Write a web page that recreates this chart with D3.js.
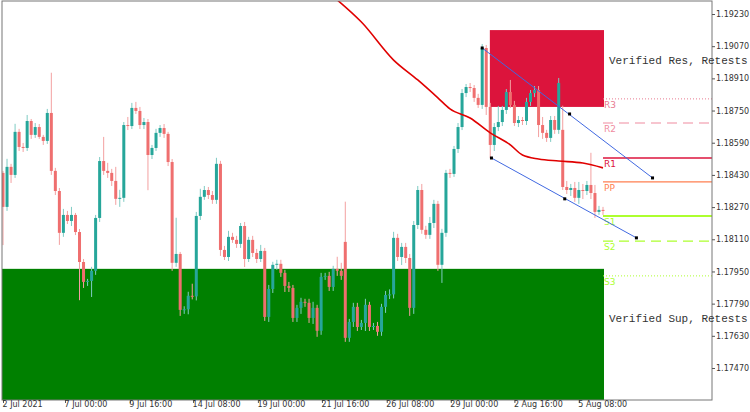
<!DOCTYPE html>
<html><head><meta charset="utf-8">
<script src="https://cdn.jsdelivr.net/npm/d3@7"></script>
<style>body{margin:0;background:#fff}svg{display:block}</style>
</head><body><svg id="c" width="750" height="412"></svg>
<script>
const firstOpen = 1.18440;
const closes = [1.18271,1.18470,1.18430,1.18644,1.18569,1.18564,1.18698,1.18629,1.18668,1.18619,
1.18599,1.18738,1.18450,1.18350,1.18142,1.18231,1.18201,1.18231,1.18146,1.17997,
1.17898,1.17903,1.17953,1.18216,1.18499,1.18450,1.18440,1.18400,1.18311,1.18316,
1.18678,1.18673,1.18763,1.18748,1.18678,1.18693,1.18529,1.18564,1.18639,1.18663,
1.18634,1.18494,1.17993,1.18037,1.17759,1.17762,1.17829,1.17826,1.18226,1.18321,
1.18355,1.18330,1.18306,1.18485,1.18057,1.18022,1.18122,1.18107,1.18087,1.18176,
1.18012,1.18107,1.18042,1.18012,1.18052,1.17724,1.17863,1.17983,1.17988,1.17943,
1.17878,1.17868,1.17719,1.17769,1.17799,1.17794,1.17719,1.17769,1.17655,1.17923,
1.17928,1.17873,1.17963,1.17953,1.17928,1.17620,1.17699,1.17774,1.17674,1.17694,
1.17784,1.17674,1.17679,1.17650,1.17774,1.17833,1.17836,1.18117,1.18022,1.18072,
1.18017,1.17769,1.18181,1.18355,1.18157,1.18132,1.18191,1.18286,1.17983,1.18142,
1.18440,1.18435,1.18559,1.18668,1.18837,1.18867,1.18862,1.18813,1.18778,1.19061,
1.18768,1.18579,1.18668,1.18693,1.18753,1.18842,1.18778,1.18688,1.18703,1.18698,
1.18793,1.18837,1.18852,1.18678,1.18639,1.18614,1.18703,1.18654,1.18887,1.18370,
1.18355,1.18365,1.18316,1.18355,1.18350,1.18380,1.18340,1.18246,1.18256,1.18251];
const gapOpens = {85:1.18097, 139:1.18654};
const upWick = [10,40,15,40,15,20,30,10,20,15, 10,20,200,15,15,30,20,40,10,15, 15,10,20,15,20,120,40,20,70,40, 15,40,25,30,20,20,15,15,20,15, 20,10,15,180,10,15,20,60,20,40, 20,15,20,30,15,20,30,20,20,15, 20,15,20,20,30,15,20,15,20,20, 15,20,15,15,20,15,20,30,15,20, 15,20,15,60,40,200,15,20,20,15, 30,15,15,20,15,20,25,30,20,20, 20,20,20,20,30,20,30,20,15,20, 15,20,15,20,20,15,20,15,20,20, 15,20,20,80,20,15,60,20,20,15, 20,15,20,20,40,15,20,20,25,120, 30,20,30,40,30,20,160,40,20,15];
const dnWick = [190,20,40,15,20,20,15,20,15,10, 20,15,20,20,60,20,15,25,15,190, 30,20,80,20,20,20,25,25,30,40, 20,20,15,15,20,20,175,20,15,20, 20,20,40,20,30,20,25,15,20,20, 15,20,20,20,30,15,20,15,20,20, 40,15,20,20,15,20,25,20,25,20, 30,20,20,20,30,20,25,30,30,20, 15,20,20,25,20,20,20,25,20,15, 40,20,15,20,20,30,20,20,20,40, 25,40,30,20,20,20,20,25,30,90, 20,20,15,20,15,20,20,20,15,20, 40,65,30,20,20,20,15,15,20,20, 20,20,20,60,30,20,20,20,20,15, 20,30,20,30,40,20,30,30,15,20];
const maIdx = [83,89,97,103,108,111,116,121,126,129,133,138,144,149];
const maVal = [1.19300,1.19190,1.19001,1.18902,1.18813,1.18758,1.18713,1.18639,1.18579,1.18529,1.18509,1.18499,1.18489,1.18465];
const chanUpIdx = [119,140.7,161.3], chanUpVal = [1.19061,1.18733,1.18415];
const chanDnIdx = [121.3,139.5,157.3], chanDnVal = [1.18514,1.18311,1.18117];
const resZone = [1.19150,1.18768], supZone = [1.17963,1.17300];
const resStartIdx = 120.9;
const zoneTexts = ["Verified Res, Retests = 0","Verified Sup, Retests = 2"];
const pivotNames = ["R3","R2","R1","PP","S1","S2","S3"];
const pivotVals = [1.18808,1.18688,1.18514,1.18395,1.18226,1.18101,1.17928];
const yTicks = [1.19230,1.19070,1.18910,1.18750,1.18590,1.18430,1.18270,1.18110,1.17950,1.17790,1.17630,1.17470];
const xTickIdx = [0,15.4,31.5,47.2,63.3,79.2,95.3,111.2,127,143];
const xTickLabels = ["2 Jul 2021","7 Jul 00:00","9 Jul 16:00","14 Jul 08:00","19 Jul 00:00","21 Jul 16:00","26 Jul 08:00","29 Jul 00:00","2 Aug 16:00","5 Aug 08:00"];

const svg = d3.select("#c");
const L=2,R=712,T=1,B=400;
const x = d3.scaleLinear().domain([0,149]).range([3,603]);
const y = d3.scaleLinear().domain([1.19230,1.17470]).range([14,368]);
svg.append("clipPath").attr("id","clip").append("rect").attr("x",L).attr("y",T).attr("width",R-L).attr("height",B-T);
const g = svg.append("g").attr("clip-path","url(#clip)");

g.append("rect").attr("x",x(resStartIdx)).attr("y",y(resZone[0]))
 .attr("width",x(149)+1-x(resStartIdx)).attr("height",y(resZone[1])-y(resZone[0])).attr("fill","#dc143c");
g.append("rect").attr("x",L).attr("y",y(supZone[0])).attr("width",x(149)+1-L).attr("height",y(supZone[1])-y(supZone[0])).attr("fill","#008000");

const pStyle = [
 {c:"#e87a90",d:"1,2",w:1},{c:"#f08ca0",d:"10,6",w:1.2},{c:"#dc143c",d:null,w:1.3},
 {c:"#ff7f50",d:null,w:1.3},{c:"#adff2f",d:null,w:2},{c:"#adff2f",d:"10,6",w:1.2},{c:"#adff2f",d:"1,2",w:1}];
pivotVals.forEach((v,i)=>{
  const s=pStyle[i];
  g.append("line").attr("x1",x(149)).attr("x2",R).attr("y1",y(v)).attr("y2",y(v))
   .attr("stroke",s.c).attr("stroke-width",s.w).attr("stroke-dasharray",s.d);
  g.append("text").attr("x",x(149)+1).attr("y",y(v)+9).text(pivotNames[i])
   .attr("fill",s.c).attr("font-family","DejaVu Sans").attr("font-size",9);
});

const data = closes.map((c,i)=>{
  const o = gapOpens[i]!==undefined? gapOpens[i] : (i===0?firstOpen:closes[i-1]);
  return {i,o,c,h:Math.max(o,c)+upWick[i]*1e-5,l:Math.min(o,c)-dnWick[i]*1e-5};
});
const bull="#26a69a", bear="#ef6f6f";
const cg = g.append("g");
cg.selectAll("line").data(data).join("line")
  .attr("x1",d=>x(d.i)).attr("x2",d=>x(d.i)).attr("y1",d=>y(d.h)).attr("y2",d=>y(d.l))
  .attr("stroke",d=>d.c>=d.o?"#7fcbc3":"#f3a0a0").attr("stroke-width",1);
cg.selectAll("rect").data(data).join("rect")
  .attr("x",d=>x(d.i)-1.5).attr("width",3)
  .attr("y",d=>y(Math.max(d.o,d.c))).attr("height",d=>Math.max(1,Math.abs(y(d.o)-y(d.c))))
  .attr("fill",d=>d.c>=d.o?bull:bear);

g.append("path").datum(maIdx.map((v,i)=>[v,maVal[i]]))
 .attr("d",d3.line().x(d=>x(d[0])).y(d=>y(d[1])).curve(d3.curveMonotoneX))
 .attr("fill","none").attr("stroke","#e00000").attr("stroke-width",1.6);

[[chanUpIdx,chanUpVal],[chanDnIdx,chanDnVal]].forEach(([ix,vv])=>{
  const pts = ix.map((v,i)=>[x(v),y(vv[i])]);
  g.append("line").attr("x1",pts[0][0]).attr("y1",pts[0][1]).attr("x2",pts[2][0]).attr("y2",pts[2][1])
   .attr("stroke","#4169e1").attr("stroke-width",1);
  pts.forEach(p=>g.append("rect").attr("x",p[0]-1.5).attr("y",p[1]-1.5).attr("width",3).attr("height",3).attr("fill","#000"));
});

svg.append("rect").attr("x",L).attr("y",T).attr("width",R-L).attr("height",B-T).attr("fill","none").attr("stroke","#777").attr("stroke-width",1);

const ya = svg.append("g").attr("transform",`translate(${R},0)`)
 .call(d3.axisRight(y).tickValues(yTicks).tickSize(3).tickFormat(d3.format(".5f")));
ya.select(".domain").remove();
ya.selectAll("text").attr("font-family","DejaVu Sans").attr("font-size",8).attr("fill","#333").attr("x",4);
ya.selectAll("line").attr("stroke","#555");

const xa = svg.append("g").attr("transform",`translate(0,${B})`)
 .call(d3.axisBottom(x).tickValues(xTickIdx).tickSize(3).tickFormat((d,i)=>xTickLabels[i]));
xa.select(".domain").remove();
xa.selectAll("text").attr("font-family","DejaVu Sans").attr("font-size",8).attr("fill","#333")
 .attr("text-anchor","start").attr("dy","0.55em").attr("y",3).attr("x",-1);
xa.selectAll("line").attr("stroke","#555");

const mono = "Liberation Mono";
svg.append("text").attr("x",609).attr("y",64).text(zoneTexts[0])
 .attr("font-family",mono).attr("font-size",11).attr("fill","#333");
svg.append("text").attr("x",609).attr("y",322).text(zoneTexts[1])
 .attr("font-family",mono).attr("font-size",11).attr("fill","#333");
</script></body></html>
